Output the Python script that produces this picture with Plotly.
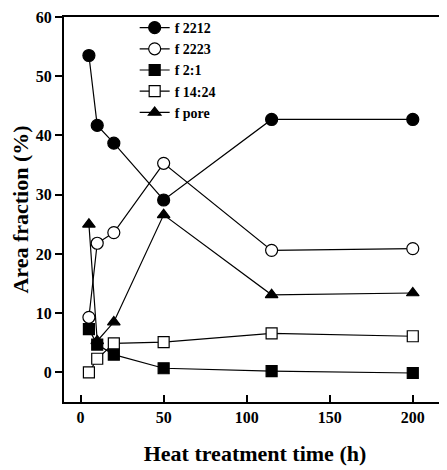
import plotly.graph_objects as go

time_h = [5, 10, 20, 50, 115, 200]
f2212 = [53.5, 41.7, 38.7, 29.1, 42.7, 42.7]
f2223 = [9.3, 21.8, 23.6, 35.3, 20.6, 20.9]
f21 = [7.3, 4.7, 3.0, 0.7, 0.2, -0.1]
f1424 = [0.0, 2.3, 4.9, 5.1, 6.6, 6.1]
fpore = [25.0, 5.3, 8.5, 26.6, 13.1, 13.4]

series = [
    ("f 2212", f2212, "circle", "black"),
    ("f 2223", f2223, "circle", "white"),
    ("f 2:1", f21, "square", "black"),
    ("f 14:24", f1424, "square", "white"),
    ("f pore", fpore, "triangle-up", "black"),
]

fig = go.Figure()
for name, ys, sym, fill in series:
    fig.add_trace(go.Scatter(
        x=time_h, y=ys, name=name, mode="lines+markers",
        line=dict(color="black", width=1.2),
        marker=dict(symbol=sym, size=12 if sym == "circle" else 11, color=fill,
                    line=dict(color="black", width=1.2)),
    ))

font_family = "Liberation Serif, Times New Roman, serif"
fig.update_layout(
    width=439, height=462,
    margin=dict(l=56, r=1, t=9, b=68),
    paper_bgcolor="white", plot_bgcolor="white",
    font=dict(family=font_family, color="black"),
    showlegend=True,
    legend=dict(x=0.185, y=1.013, xanchor="left", yanchor="top",
                bgcolor="rgba(0,0,0,0)", tracegroupgap=0,
                font=dict(size=14, family=font_family, weight="bold"),
                itemwidth=30),
    xaxis=dict(range=[-10, 220], tickvals=[0, 50, 100, 150, 200],
               ticks="inside", ticklen=7, tickwidth=2, tickcolor="black",
               showline=True, linecolor="black", linewidth=2, mirror=True,
               showgrid=False, zeroline=False, automargin=False,
               tickfont=dict(size=16, family=font_family, weight="bold"),
               title=dict(text="Heat treatment time (h)", standoff=20,
                          font=dict(size=22, family=font_family, weight="bold"))),
    yaxis=dict(range=[-5, 60], tickvals=[0, 10, 20, 30, 40, 50, 60],
               ticks="outside", ticklen=7, tickwidth=2, tickcolor="black",
               showline=True, linecolor="black", linewidth=2, mirror=True,
               showgrid=False, zeroline=False, automargin=False,
               ticklabeloverflow="allow",
               tickfont=dict(size=16, family=font_family, weight="bold"),
               title=dict(text="Area fraction (%)", standoff=4,
                          font=dict(size=22, family=font_family, weight="bold"))),
)

fig.write_html("out.html")
